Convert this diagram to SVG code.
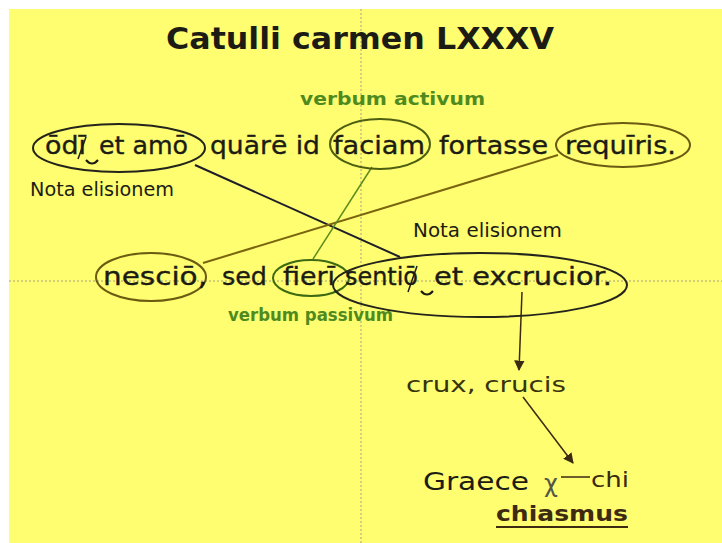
<svg xmlns="http://www.w3.org/2000/svg" width="722" height="543" viewBox="0 0 722 543">
<defs>
<style>
.t{font-family:"DejaVu Sans","Verdana",sans-serif;fill:#1c1c14}
.w{font-size:24px;stroke:#1c1c14;stroke-width:0.35}
.g{font-family:"DejaVu Sans",sans-serif;font-weight:bold;fill:#4f8a1f;font-size:17px}
.n{font-family:"DejaVu Sans",sans-serif;font-size:19px;fill:#1c1c14}
.el{fill:none;stroke-width:2}
.dot{stroke:#a8a080;stroke-width:1;stroke-dasharray:2 2;fill:none}
.mk{fill:none;stroke:#1c1c14}
</style>
<marker id="ah" viewBox="0 0 10 10" refX="9" refY="5" markerWidth="7" markerHeight="7" orient="auto-start-reverse">
<path d="M0,0 L10,5 L0,10 z" fill="#3a2a12"/>
</marker>
</defs>
<rect x="0" y="0" width="722" height="543" fill="#ffffff"/>
<rect x="9" y="9" width="713" height="534" fill="#fefe70"/>
<g id="guides">
<line class="dot" x1="361" y1="9" x2="361" y2="543"/>
<line class="dot" x1="9" y1="281" x2="722" y2="281"/>
</g>
<g id="title"><text class="t" x="166" y="49" font-size="31" font-weight="bold" textLength="388" lengthAdjust="spacingAndGlyphs">Catulli carmen LXXXV</text></g>
<g id="connectors">
<line x1="195" y1="165" x2="400" y2="257" stroke="#1e1e2a" stroke-width="2"/>
<line x1="558" y1="155" x2="203" y2="263" stroke="#7a6410" stroke-width="2"/>
<line x1="372" y1="167" x2="313" y2="259" stroke="#5e8c1c" stroke-width="1.5"/>
<line x1="522" y1="292" x2="519" y2="370" stroke="#3a2a12" stroke-width="1.5" marker-end="url(#ah)"/>
<line x1="523" y1="397" x2="573" y2="463" stroke="#3a2a12" stroke-width="1.5" marker-end="url(#ah)"/>
</g>
<g id="verbum-activum"><text class="g" x="300" y="105" textLength="185" lengthAdjust="spacingAndGlyphs">verbum activum</text></g>
<g id="odi-et-amo">
<ellipse class="el" cx="119" cy="148" rx="86" ry="24" stroke="#24241c"/>
<text class="t w" x="45" y="154" textLength="41" lengthAdjust="spacingAndGlyphs">ōdī</text>
<line class="mk" x1="86" y1="137" x2="78" y2="159" stroke-width="1.5"/>
<path class="mk" d="M86,160 Q92,167 98,160" stroke-width="2"/>
<text class="t w" x="99" y="154" textLength="89" lengthAdjust="spacingAndGlyphs">et amō</text>
</g>
<g id="quare-id"><text class="t w" x="210" y="154" textLength="110" lengthAdjust="spacingAndGlyphs">quārē id</text></g>
<g id="faciam">
<ellipse class="el" cx="380" cy="144" rx="50" ry="25" stroke="#4e5e12"/>
<text class="t w" x="333" y="154" textLength="92" lengthAdjust="spacingAndGlyphs">faciam</text>
</g>
<g id="fortasse"><text class="t w" x="439" y="154" textLength="109" lengthAdjust="spacingAndGlyphs">fortasse</text></g>
<g id="requiris">
<ellipse class="el" cx="623" cy="145" rx="67" ry="22" stroke="#6a5a12"/>
<text class="t w" x="565" y="154" textLength="111" lengthAdjust="spacingAndGlyphs">requīris.</text>
</g>
<g id="nota-1"><text class="n" x="30" y="196" textLength="144" lengthAdjust="spacingAndGlyphs">Nota elisionem</text></g>
<g id="nota-2"><text class="n" x="413" y="237" textLength="149" lengthAdjust="spacingAndGlyphs">Nota elisionem</text></g>
<g id="nescio">
<ellipse class="el" cx="151" cy="277" rx="55" ry="24" stroke="#6a5a12"/>
<text class="t w" x="103" y="285" textLength="104" lengthAdjust="spacingAndGlyphs">nesciō,</text>
</g>
<g id="sed"><text class="t w" x="222" y="285" textLength="45" lengthAdjust="spacingAndGlyphs">sed</text></g>
<g id="fieri">
<ellipse class="el" cx="311" cy="278" rx="38" ry="18" stroke="#3e6a12"/>
<text class="t w" x="283" y="285" textLength="52" lengthAdjust="spacingAndGlyphs">fierī</text>
</g>
<g id="sentio">
<ellipse class="el" cx="480" cy="285" rx="147" ry="32" stroke="#24241c"/>
<text class="t w" x="345" y="285" textLength="73" lengthAdjust="spacingAndGlyphs">sentiō</text>
<line class="mk" x1="417" y1="266" x2="408" y2="292" stroke-width="1.5"/>
<path class="mk" d="M421,291 Q427,298 433,291" stroke-width="2"/>
<text class="t w" x="434" y="285" textLength="178" lengthAdjust="spacingAndGlyphs">et excrucior.</text>
</g>
<g id="verbum-passivum"><text class="g" x="228" y="321" textLength="165" lengthAdjust="spacingAndGlyphs">verbum passivum</text></g>
<g id="crux"><text class="t" x="406" y="392" font-size="22" style="fill:#38320e" textLength="160" lengthAdjust="spacingAndGlyphs">crux, crucis</text></g>
<g id="graece">
<text class="t" x="423" y="490" font-size="24" textLength="106" lengthAdjust="spacingAndGlyphs">Graece</text>
<text class="t" x="544" y="492" font-size="24" style="fill:#555548">χ</text>
<line x1="561" y1="477" x2="590" y2="477" stroke="#3a2a12" stroke-width="1.5"/>
<text class="t" x="591" y="487" font-size="22" style="fill:#3a2a12" textLength="38" lengthAdjust="spacingAndGlyphs">chi</text>
</g>
<g id="chiasmus">
<text class="t" x="496" y="521" font-size="21" font-weight="bold" style="fill:#3d2a10" textLength="132" lengthAdjust="spacingAndGlyphs">chiasmus</text>
<line x1="496" y1="527" x2="628" y2="527" stroke="#3d2a10" stroke-width="2"/>
</g>
</svg>
